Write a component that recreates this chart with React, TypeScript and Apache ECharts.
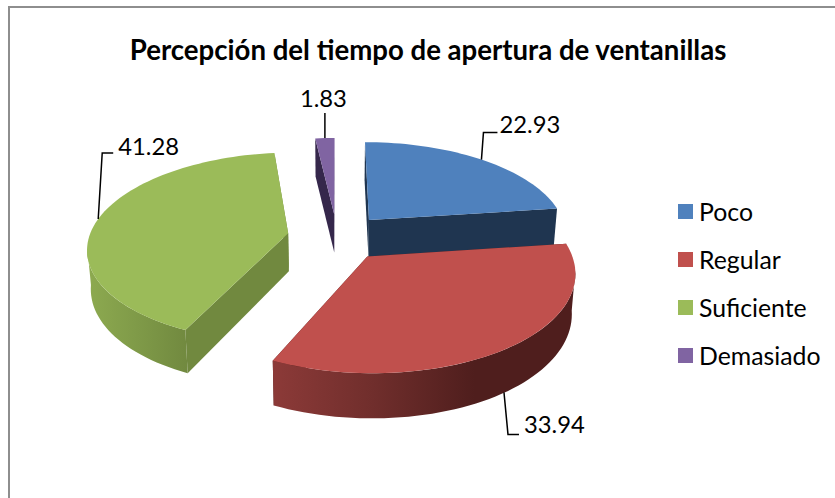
import React, { useEffect, useRef } from "react";
import * as echarts from "echarts";

const categories = ["Poco", "Regular", "Suficiente", "Demasiado"];
const values = [22.93, 33.94, 41.28, 1.83];
const labels = ["22.93", "33.94", "41.28", "1.83"];
const topColors = ["#4F81BD", "#C0504D", "#9BBB59", "#8064A2"];
const faceColors = ["#1F3550", "#4F1E1D", "#71893F", "#35274B"];
const wallStops: string[][] = [
  ["#1F3550", "#1F3550"],
  ["#8C3A38", "#702E2C", "#4F1E1D", "#4F1E1D"],
  ["#8DAA50", "#7F9A48", "#71893F"],
  ["#35274B", "#35274B"],
];
const paintOrder = [2, 4, 3, 1];

const CX = 337, CY = 237, RX = 199, RY = 93.6, PERSP = 0.145, EXPLODE = 0.25;
const FONT = "Lato, Carlito, sans-serif";
const RAD = Math.PI / 180;
const total = values.reduce((a, b) => a + b, 0);

function project(u: number, v: number, lower = false): number[] {
  const s = 1 / (1 + PERSP * v);
  let x = CX + RX * u * s;
  let y = CY - RY * v * s;
  if (lower) {
    x = CX + (x - CX) * 0.985;
    y += 38 + 6 * Math.max(0, -v);
  }
  return [x, y];
}

function sliceGeometry(index: number) {
  const before = values.slice(0, index).reduce((a, b) => a + b, 0);
  const start = (before / total) * 360;
  const end = ((before + values[index]) / total) * 360;
  const mid = (start + end) / 2;
  const ou = EXPLODE * Math.sin(mid * RAD);
  const ov = EXPLODE * Math.cos(mid * RAD);
  const rim = (deg: number) => [ou + Math.sin(deg * RAD), ov + Math.cos(deg * RAD)];
  return { start, end, mid, ou, ov, rim };
}

// leader lines and label spots, relative to the point of the rim they leave from
const leaders: { shift?: number[]; knee: number[][]; text: number[]; lower?: boolean }[] = [
  { knee: [[2, -27], [16, -27]], text: [18, -36] },
  { shift: [-3, 1], knee: [[4, 42], [15, 42]], text: [20, 32], lower: true },
  { knee: [[4, -66], [15, -66]], text: [20, -73] },
  { knee: [[0, -25]], text: [-25, -40] },
];

function renderSlice(index: number) {
  const g = sliceGeometry(index);
  const arc = (from: number, to: number, lower: boolean) => {
    const pts: number[][] = [];
    const steps = Math.max(2, Math.ceil(Math.abs(to - from) / 2));
    for (let i = 0; i <= steps; i++) {
      const [u, v] = g.rim(from + ((to - from) * i) / steps);
      pts.push(project(u, v, lower));
    }
    return pts;
  };
  const children: any[] = [];
  const face = (deg: number) => {
    const [u, v] = g.rim(deg);
    return {
      v,
      el: {
        type: "polygon",
        shape: {
          points: [
            project(g.ou, g.ov),
            project(u, v),
            project(u, v, true),
            project(g.ou, g.ov, true),
          ],
        },
        style: { fill: faceColors[index] },
      },
    };
  };
  [face(g.start), face(g.end)]
    .sort((a, b) => b.v - a.v)
    .forEach((f) => children.push(f.el));

  const wallFrom = Math.max(g.start, 98);
  const wallTo = Math.min(g.end, 262);
  if (wallTo > wallFrom) {
    const stops = wallStops[index];
    children.push({
      type: "polygon",
      shape: {
        points: [...arc(wallFrom, wallTo, false), ...arc(wallTo, wallFrom, true)],
      },
      style: {
        fill: new echarts.graphic.LinearGradient(
          0, 0, 1, 0,
          stops.map((color, i) => ({ offset: i / (stops.length - 1), color }))
        ),
      },
    });
  }
  children.push({
    type: "polygon",
    shape: { points: [project(g.ou, g.ov), ...arc(g.start, g.end, false)] },
    style: { fill: topColors[index] },
  });

  const lead = leaders[index];
  const [mu, mv] = g.rim(g.mid);
  const base = project(mu, mv, !!lead.lower);
  const anchor = lead.shift ? [base[0] + lead.shift[0], base[1] + lead.shift[1]] : base;
  children.push({
    type: "polyline",
    shape: {
      points: [anchor, ...lead.knee.map((k) => [anchor[0] + k[0], anchor[1] + k[1]])],
    },
    style: { stroke: "#000000", lineWidth: 1.5, fill: "none" },
  });
  children.push({
    type: "text",
    x: anchor[0] + lead.text[0],
    y: anchor[1] + lead.text[1],
    style: {
      text: labels[index],
      fill: "#000000",
      font: `23.8px ${FONT}`,
      textVerticalAlign: "middle",
    },
  });
  return { type: "group", children };
}

export default function App() {
  const ref = useRef<HTMLDivElement>(null);
  useEffect(() => {
    if (!ref.current) return;
    const chart = echarts.init(ref.current, undefined, { renderer: "svg" });
    chart.setOption({
      animation: false,
      backgroundColor: "#FFFFFF",
      color: topColors,
      title: {
        text: "Percepción del tiempo de apertura de ventanillas",
        left: 428,
        top: 35,
        textAlign: "center",
        padding: 0,
        textStyle: { fontFamily: FONT, fontSize: 27.6, fontWeight: "bold", color: "#000000" },
      },
      legend: {
        orient: "vertical",
        left: 678,
        top: 199,
        padding: 0,
        itemWidth: 15,
        itemHeight: 15,
        itemGap: 23,
        icon: "rect",
        selectedMode: false,
        textStyle: { fontFamily: FONT, fontSize: 24.8, color: "#000000", padding: [0, 0, 2, 1] },
        data: categories,
      },
      graphic: [
        {
          type: "polyline",
          silent: true,
          shape: { points: [[9, 498], [9, 7], [835, 7]] },
          style: { stroke: "#8E8E8E", lineWidth: 2, fill: "none" },
        },
      ],
      series: categories.map((name, index) => ({
        type: "custom",
        name,
        coordinateSystem: "none",
        z: paintOrder[index],
        silent: true,
        data: [[values[index]]],
        renderItem: () => renderSlice(index),
      })),
    });
    return () => chart.dispose();
  }, []);
  return (
    <div
      ref={ref}
      style={{ position: "fixed", left: 0, top: 0, width: 835, height: 498, background: "#fff" }}
    />
  );
}
